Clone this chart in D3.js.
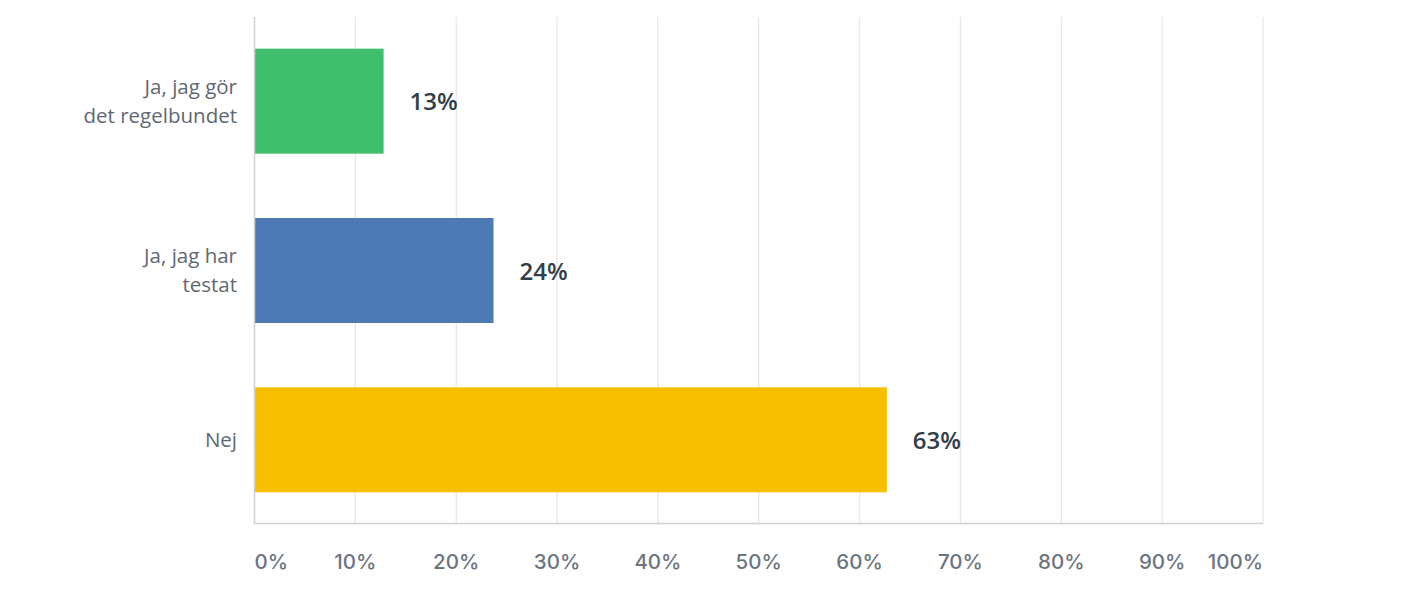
<!DOCTYPE html>
<html><head><meta charset="utf-8">
<script src="https://cdn.jsdelivr.net/npm/d3@7"></script>
<style>
html,body{margin:0;padding:0;background:#fff;}
svg{display:block;}
</style></head>
<body>
<svg id="chart" width="1420" height="600"></svg>
<script>
const categories = ["Ja, jag gör|det regelbundet", "Ja, jag har|testat", "Nej"];
const values = [12.8, 23.7, 62.7];
const valueLabels = ["13%", "24%", "63%"];
const colors = ["#3fbe6c", "#4d7ab5", "#f7bf00"];
const ticks = [0, 10, 20, 30, 40, 50, 60, 70, 80, 90, 100];

const svg = d3.select("#chart");
const x = d3.scaleLinear().domain([0, 100]).range([254.5, 1263]);
const y = d3.scaleBand().domain(categories).range([17, 524]).paddingInner(0.38).paddingOuter(0.187);

// gridlines
svg.append("g").selectAll("line").data(ticks.slice(1)).join("line")
  .attr("x1", d => x(d)).attr("x2", d => x(d))
  .attr("y1", 17).attr("y2", 524)
  .attr("stroke", "#e6e6e6").attr("stroke-width", 1.2);

// bars
svg.append("g").selectAll("rect").data(values).join("rect")
  .attr("x", x(0)).attr("y", (d, i) => y(categories[i]))
  .attr("width", d => x(d) - x(0)).attr("height", y.bandwidth())
  .attr("fill", (d, i) => colors[i]);

// axes lines
svg.append("line").attr("x1", x(0)).attr("x2", x(0)).attr("y1", 17).attr("y2", 524)
  .attr("stroke", "#cfd0d2").attr("stroke-width", 1.5);
svg.append("line").attr("x1", x(0) - 0.75).attr("x2", x(100)).attr("y1", 523.5).attr("y2", 523.5)
  .attr("stroke", "#cfd0d2").attr("stroke-width", 1.5);

// tick labels
svg.append("g").selectAll("text").data(ticks).join("text")
  .attr("x", d => x(d)).attr("y", 569)
  .attr("text-anchor", (d, i) => i === 0 ? "start" : (i === ticks.length - 1 ? "end" : "middle"))
  .attr("font-family", "Inter, sans-serif").attr("font-size", 20.5).attr("font-weight", 500)
  .attr("fill", "#6b7580")
  .text(d => d + "%");

// category labels
const cat = svg.append("g").selectAll("text").data(categories).join("text")
  .attr("text-anchor", "end")
  .attr("font-family", "'Open Sans', sans-serif").attr("font-size", 20.5)
  .attr("fill", "#5f6872");
cat.each(function(d) {
  const lines = d.split("|");
  const cy = y(d) + y.bandwidth() / 2;
  const lh = 29;
  const t = d3.select(this);
  lines.forEach((ln, k) => {
    t.append("tspan").attr("x", 237)
      .attr("y", cy + (k - (lines.length - 1) / 2) * lh + 7)
      .text(ln);
  });
});

// value labels
svg.append("g").selectAll("text").data(values).join("text")
  .attr("x", d => x(d) + 26)
  .attr("y", (d, i) => y(categories[i]) + y.bandwidth() / 2 + 9)
  .attr("font-family", "'Open Sans', sans-serif").attr("font-size", 24).attr("font-weight", 600)
  .attr("fill", "#333e48")
  .text((d, i) => valueLabels[i]);
</script>
</body></html>
